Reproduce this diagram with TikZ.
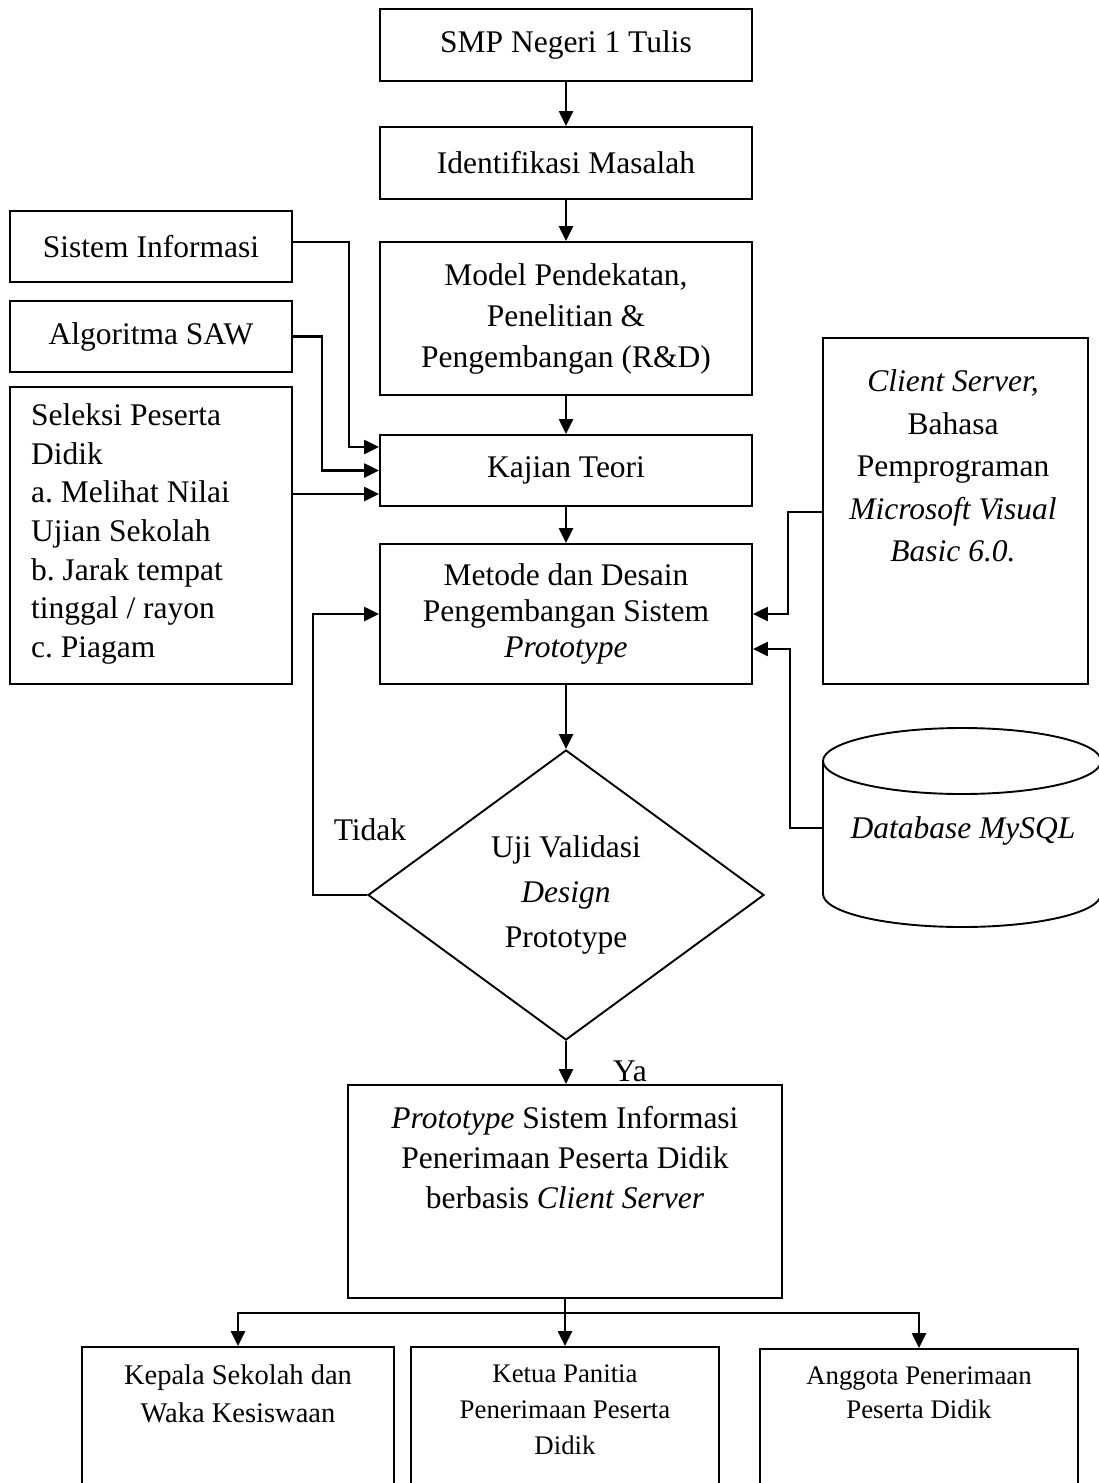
\documentclass[tikz,border=0pt]{standalone}
\usepackage{fontspec}
\setmainfont{Liberation Serif}
\usetikzlibrary{arrows.meta,shapes.geometric,calc}
\frenchspacing
\begin{document}
\begin{tikzpicture}[x=1pt,y=-1pt,
  box/.style={draw,line width=1.9pt,inner sep=0pt,align=center},
  txt/.style={inner sep=0pt,align=center},
  big/.style={font=\fontsize{31.5}{41}\selectfont},
  link/.style={line width=2.4pt,-{Triangle[length=15pt,width=14pt]}},
  plain/.style={line width=2.4pt}]
\useasboundingbox (0,0) rectangle (1098,1483);

% main column
\node[box,big,minimum width=372pt,minimum height=72pt] (smp) at (566,45) {SMP Negeri 1 Tulis};
\node[box,big,minimum width=372pt,minimum height=72pt] (ident) at (566,163) {Identifikasi Masalah};
\node[box,big,minimum width=372pt,minimum height=153pt] (model) at (566,318.5)
  {Model Pendekatan,\\ Penelitian \&\\ Pengembangan (R\&D)};
\node[box,big,minimum width=372pt,minimum height=71pt] (kajian) at (566,470.5) {Kajian Teori};
\node[box,minimum width=372pt,minimum height=140pt,font=\fontsize{31.5}{36}\selectfont] (metode) at (566,614)
  {Metode dan Desain\\ Pengembangan Sistem\\ \textit{Prototype}};
\node[draw,line width=1.9pt,shape=diamond,shape aspect=1.366,inner sep=0pt,
      minimum width=396pt,minimum height=290pt,align=center,
      font=\fontsize{31.5}{45}\selectfont] (valid) at (566,895)
  {Uji Validasi\\ \textit{Design}\\ Prototype};
\node[box,minimum width=434pt,minimum height=213pt] (proto) at (565,1191.5) {};
\node[txt,font=\fontsize{31.5}{40}\selectfont] (prototxt) at (565,1158)
  {\textit{Prototype} Sistem Informasi\\ Penerimaan Peserta Didik\\ berbasis \textit{Client Server}};

% theory inputs on the left
\node[box,big,minimum width=282pt,minimum height=71pt] (sisinfo) at (151,246.5) {Sistem Informasi};
\node[box,big,minimum width=282pt,minimum height=71pt] (saw) at (151,336.5) {Algoritma SAW};
\node[box,minimum width=282pt,minimum height=297pt] (seleksi) at (151,535.5) {};
\node[txt,align=left,anchor=west,font=\fontsize{31.5}{38.7}\selectfont] (seleksitxt) at (31,534)
  {Seleksi Peserta\\ Didik\\ a. Melihat Nilai\\ Ujian Sekolah\\ b. Jarak tempat\\ tinggal / rayon\\ c. Piagam};

% tools on the right
\node[box,minimum width=265pt,minimum height=346pt] (client) at (955.5,511) {};
\node[txt,font=\fontsize{31.5}{42.5}\selectfont] (clienttxt) at (953,466)
  {\textit{Client Server,}\\ Bahasa\\ Pemprograman\\ \textit{Microsoft Visual}\\ \textit{Basic 6.0.}};

% database cylinder
\draw[line width=1.9pt] (823,761) -- (823,894) arc[start angle=180,end angle=0,x radius=139,y radius=33]
  -- (1101,761);
\draw[line width=1.9pt] (962,761) ellipse[x radius=139,y radius=33];
\node[txt,big] (db) at (963,831) {\textit{Database MySQL}};
\coordinate (dbw) at (823,828);

% users at the bottom
\node[box,minimum width=312pt,minimum height=180pt] (kepala) at (238,1437) {};
\node[box,minimum width=308pt,minimum height=180pt] (ketua) at (565,1437) {};
\node[box,minimum width=318pt,minimum height=180pt] (anggota) at (919,1439) {};
\node[txt,font=\fontsize{28.5}{38}\selectfont] at (238,1394) {Kepala Sekolah dan\\ Waka Kesiswaan};
\node[txt,font=\fontsize{26.8}{36}\selectfont] at (565,1410) {Ketua Panitia\\ Penerimaan Peserta\\ Didik};
\node[txt,font=\fontsize{26.8}{34}\selectfont] at (919,1393) {Anggota Penerimaan\\ Peserta Didik};

% labels on the decision
\node[txt,big] (tidak) at (370,830) {Tidak};
\node[txt,big] (ya) at (630,1071) {Ya};

% main flow
\draw[link] (smp) -- (ident);
\draw[link] (ident) -- (model);
\draw[link] (model) -- (kajian);
\draw[link] (kajian) -- (metode);
\draw[link] (metode) -- (valid);
\draw[link] (valid.south) -- (valid.south |- proto.north);
\draw[link] (valid.west) -- ++(-54,0) |- (metode.west);

% inputs into the theory study
\draw[link] ([yshift=4.5pt]sisinfo.east) -| (349,447) -- ([yshift=23.5pt]kajian.west);
\draw[link] (saw.east) -| (322,470.5) -- (kajian.west);
\draw[link] ([yshift=41.5pt]seleksi.east) -- ([yshift=-23.5pt]kajian.west);

% tools into the design method
\draw[link] ([yshift=-1pt]client.west) -- (788,512) |- (metode.east);
\draw[link] (dbw) -- (790,828) |- ([yshift=-35pt]metode.east);

% distribution to users
\draw[plain] (proto.south) -- ++(0,14) coordinate (fork);
\draw[link] (fork) -| (kepala.north);
\draw[link] (fork) -- (ketua.north);
\draw[link] (fork) -| (anggota.north);
\end{tikzpicture}
\end{document}
